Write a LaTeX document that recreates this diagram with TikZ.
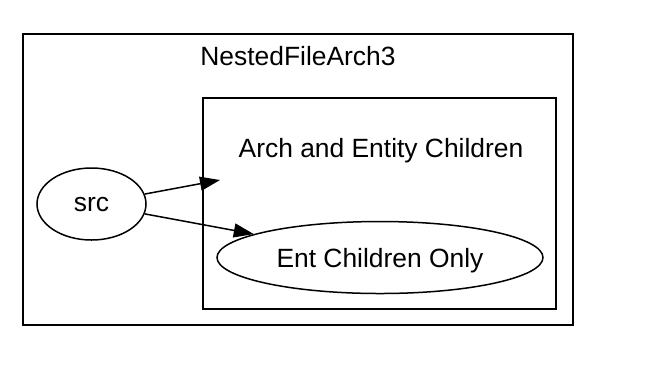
\documentclass[tikz,border=0pt]{standalone}
\usepackage{fontspec}
\setmainfont{Liberation Sans}
\usetikzlibrary{arrows.meta,positioning,shapes.geometric}

\begin{document}
\begin{tikzpicture}[
  x=0.5pt, y=-0.5pt,
  font=\fontsize{13.2}{16}\selectfont, every node/.style={text depth=0pt},
  frame/.style={draw=black, line width=1pt, minimum width=#1, inner sep=0pt},
  blob/.style={draw=black, ellipse, line width=0.75pt, inner sep=0pt, minimum height=36pt},
  >={Triangle[length=10pt, width=7pt]}, line width=0.75pt]
  \useasboundingbox (0,0) rectangle (670,372);
  \node[frame=275pt, minimum height=145.5pt] (arch) at (298,179.5) {};
  \node[frame=176.5pt, minimum height=105.5pt] (inner) at (379.5,203.5) {};
  \node (archlbl) at (298,56) {NestedFileArch3};
  \node (innerlbl) at (381,148) {Arch and Entity Children};
  \node[blob, minimum width=54.5pt] (src) at (91.5,204) {src};
  \node[blob, minimum width=163pt] (ent) at (380,257.5) {Ent Children Only};
  \coordinate (innerpt) at (220,180);
  \draw[->] (src) -- (innerpt);
  \draw[->] (src) -- (ent);
\end{tikzpicture}
\end{document}
